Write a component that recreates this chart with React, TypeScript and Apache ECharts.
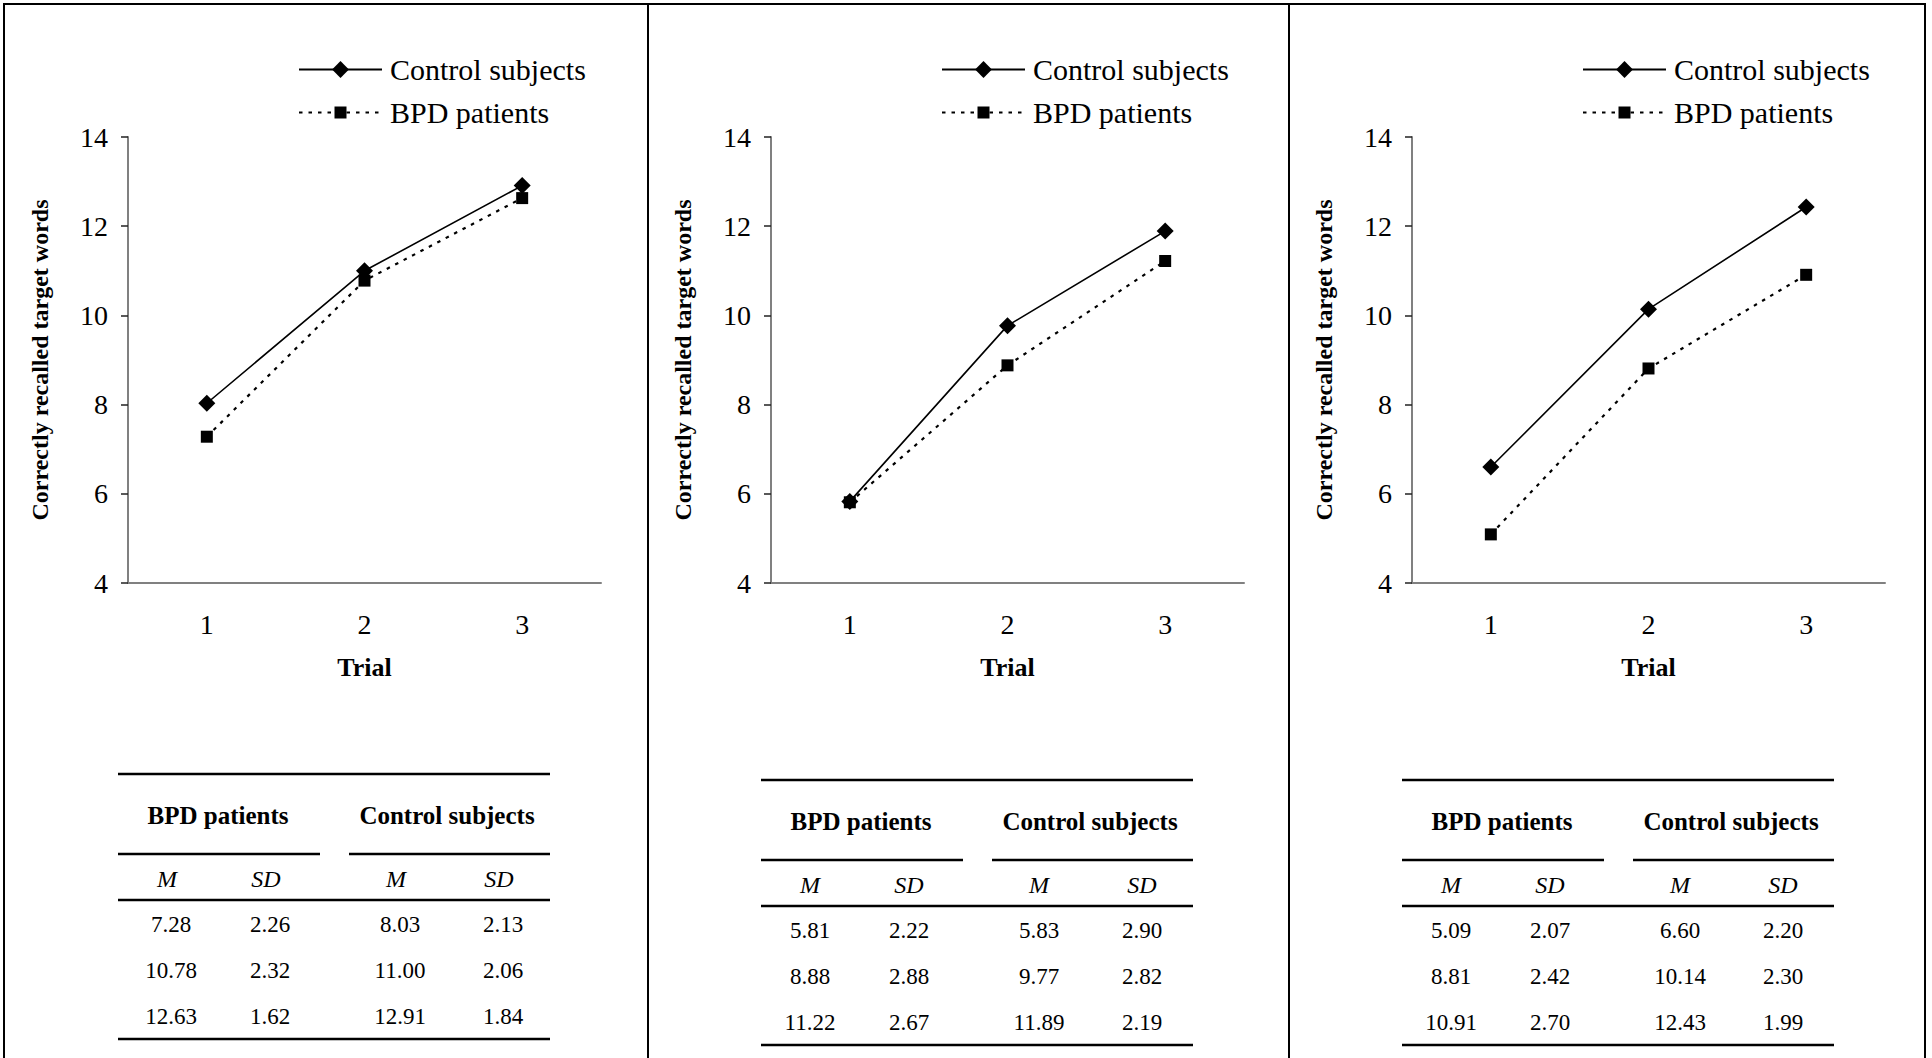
import React, { useEffect, useRef } from "react";
import * as echarts from "echarts";

// ---------- data ----------
const trials = ["1", "2", "3"];
const controlName = "Control subjects";
const bpdName = "BPD patients";
const yMin = 4;
const yMax = 14;
const yStep = 2;

const p1BpdM = [7.28, 10.78, 12.63];
const p1BpdSD = [2.26, 2.32, 1.62];
const p1CtrlM = [8.03, 11.0, 12.91];
const p1CtrlSD = [2.13, 2.06, 1.84];

const p2BpdM = [5.81, 8.88, 11.22];
const p2BpdSD = [2.22, 2.88, 2.67];
const p2CtrlM = [5.83, 9.77, 11.89];
const p2CtrlSD = [2.9, 2.82, 2.19];

const p3BpdM = [5.09, 8.81, 10.91];
const p3BpdSD = [2.07, 2.42, 2.7];
const p3CtrlM = [6.6, 10.14, 12.43];
const p3CtrlSD = [2.2, 2.3, 1.99];

const tableGroupHeaders = [bpdName, controlName];
const tableColHeaders = ["M", "SD", "M", "SD"];
const yAxisTitle = "Correctly recalled target words";
const xAxisTitle = "Trial";

// ---------- layout ----------
const SERIF = "'Liberation Serif', 'Times New Roman', Times, serif";
const panelX = [5, 648, 1289];
const tableTop = [774, 780, 780];
const tableDataDX = [4, 0, 0];

const panels = [
  { bpdM: p1BpdM, bpdSD: p1BpdSD, ctrlM: p1CtrlM, ctrlSD: p1CtrlSD },
  { bpdM: p2BpdM, bpdSD: p2BpdSD, ctrlM: p2CtrlM, ctrlSD: p2CtrlSD },
  { bpdM: p3BpdM, bpdSD: p3BpdSD, ctrlM: p3CtrlM, ctrlSD: p3CtrlSD },
];

function tableElements(px: number, top: number, ddx: number, p: any) {
  const els: any[] = [];
  const L = px + 113;
  const R = px + 545;
  const hline = (x1: number, x2: number, y: number) => ({
    type: "line",
    silent: true,
    shape: { x1, y1: y, x2, y2: y },
    style: { stroke: "#000", lineWidth: 2.6 },
  });
  els.push(hline(L, R, top));
  els.push(hline(L, px + 315, top + 80));
  els.push(hline(px + 344, R, top + 80));
  els.push(hline(L, R, top + 126));
  els.push(hline(L, R, top + 265));
  const txt = (s: string, x: number, y: number, size: number, weight: string, italic = false) => ({
    type: "text",
    silent: true,
    style: {
      text: s,
      x,
      y,
      align: "center",
      verticalAlign: "middle",
      fontFamily: SERIF,
      fontSize: size,
      fontWeight: weight,
      fontStyle: italic ? "italic" : "normal",
      fill: "#000",
    },
  });
  const groupX = [213, 442];
  tableGroupHeaders.forEach((h, i) => els.push(txt(h, px + groupX[i], top + 41, 25, "bold")));
  const colX = [162, 261, 391, 494];
  tableColHeaders.forEach((h, i) => els.push(txt(h, px + colX[i], top + 105, 24, "normal", true)));
  const rowY = [150, 196, 242];
  trials.forEach((_, r) => {
    const vals = [p.bpdM[r], p.bpdSD[r], p.ctrlM[r], p.ctrlSD[r]];
    vals.forEach((v: number, c: number) =>
      els.push(txt(v.toFixed(2), px + colX[c] + ddx, top + rowY[r], 23, "normal"))
    );
  });
  return els;
}

function buildOption() {
  const grid: any[] = [];
  const xAxis: any[] = [];
  const yAxis: any[] = [];
  const series: any[] = [];
  const legend: any[] = [];
  const graphic: any[] = [];

  panels.forEach((p, i) => {
    const px = panelX[i];
    grid.push({ left: px + 123, top: 137, width: 473, height: 446 });
    xAxis.push({
      type: "category",
      gridIndex: i,
      data: trials,
      boundaryGap: true,
      name: xAxisTitle,
      nameLocation: "middle",
      nameGap: 71,
      nameTextStyle: { fontFamily: SERIF, fontSize: 26, fontWeight: "bold", color: "#000" },
      axisLine: { lineStyle: { color: "#808080", width: 2 } },
      axisTick: { length: 8, lineStyle: { color: "#555", width: 1.5 } },
      axisLabel: { margin: 27, fontFamily: SERIF, fontSize: 28, color: "#000" },
      splitLine: { show: false },
    });
    yAxis.push({
      type: "value",
      gridIndex: i,
      min: yMin,
      max: yMax,
      interval: yStep,
      name: yAxisTitle,
      nameLocation: "middle",
      nameRotate: 90,
      nameGap: 76,
      nameTextStyle: { fontFamily: SERIF, fontSize: 24, fontWeight: "bold", color: "#000" },
      axisLine: { show: true, lineStyle: { color: "#808080", width: 2 } },
      axisTick: { show: true, length: 7, lineStyle: { color: "#222", width: 1.5 } },
      axisLabel: { margin: 20, fontFamily: SERIF, fontSize: 28, color: "#000" },
      splitLine: { show: false },
    });
    series.push({
      name: bpdName,
      type: "line",
      xAxisIndex: i,
      yAxisIndex: i,
      data: p.bpdM,
      symbol: "rect",
      symbolSize: 12,
      itemStyle: { color: "#000" },
      lineStyle: { color: "#000", width: 2.2, type: [3.5, 6] },
      z: 2,
    });
    series.push({
      name: controlName,
      type: "line",
      xAxisIndex: i,
      yAxisIndex: i,
      data: p.ctrlM,
      symbol: "diamond",
      symbolSize: 17,
      itemStyle: { color: "#000" },
      lineStyle: { color: "#000", width: 1.6, type: "solid" },
      z: 3,
    });
    legend.push({
      data: [controlName],
      left: px + 293,
      top: 54.5,
      padding: 0,
      itemWidth: 83,
      itemHeight: 21,
      selectedMode: false,
      textStyle: { fontFamily: SERIF, fontSize: 30, lineHeight: 30, color: "#000", padding: [0, 0, 0, 3] },
    });
    legend.push({
      data: [bpdName],
      left: px + 293,
      top: 97.5,
      padding: 0,
      itemWidth: 83,
      itemHeight: 15,
      selectedMode: false,
      textStyle: { fontFamily: SERIF, fontSize: 30, lineHeight: 30, color: "#000", padding: [0, 0, 0, 3] },
    });
    tableElements(px, tableTop[i], tableDataDX[i], p).forEach((e) => graphic.push(e));
  });

  // panel frame
  graphic.push({
    type: "rect",
    silent: true,
    shape: { x: 4, y: 4, width: 1921, height: 1200 },
    style: { fill: "none", stroke: "#000", lineWidth: 2 },
  });
  [648, 1289].forEach((x) =>
    graphic.push({
      type: "line",
      silent: true,
      shape: { x1: x, y1: 4, x2: x, y2: 1058 },
      style: { stroke: "#000", lineWidth: 2 },
    })
  );

  return {
    animation: false,
    backgroundColor: "#fff",
    color: ["#000"],
    textStyle: { fontFamily: SERIF },
    grid,
    xAxis,
    yAxis,
    series,
    legend,
    graphic,
  };
}

export default function App() {
  const ref = useRef<HTMLDivElement>(null);
  useEffect(() => {
    if (!ref.current) return;
    const chart = echarts.init(ref.current, undefined, { renderer: "svg" });
    chart.setOption(buildOption() as any);
    return () => chart.dispose();
  }, []);
  return (
    <div
      ref={ref}
      style={{ position: "absolute", left: 0, top: 0, width: 1932, height: 1058, background: "#fff" }}
    />
  );
}
